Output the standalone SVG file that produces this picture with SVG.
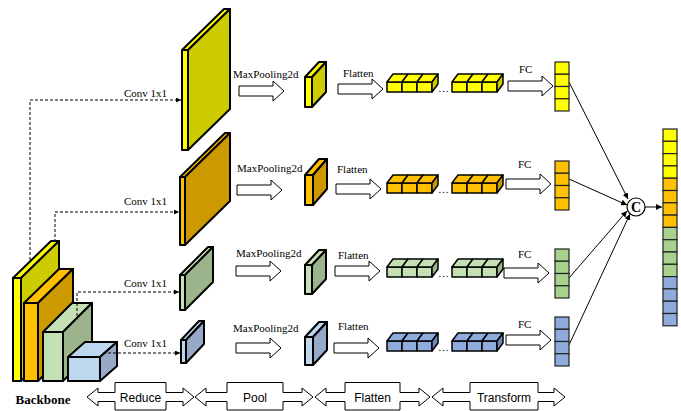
<svg xmlns="http://www.w3.org/2000/svg" xmlns:xlink="http://www.w3.org/1999/xlink" width="681" height="411" viewBox="0 0 681 411">
<style>
.sl{stroke:#000;stroke-width:2;stroke-linejoin:round}
.fb{stroke:#000;stroke-width:1.5;stroke-linejoin:round}
.cell{stroke:#222;stroke-width:1.2}
.ba{fill:#fff;stroke:#000;stroke-width:1}
.dash{fill:none;stroke:#000;stroke-width:1;stroke-dasharray:3,2}
.ln{fill:none;stroke:#000;stroke-width:1}
.lab{font-family:"Liberation Serif","Times New Roman",serif;font-size:11px;fill:#000}
.san{font-family:"Liberation Sans",Arial,sans-serif;font-size:12px;fill:#000;text-anchor:middle}
.y1{fill:#ffff00}.y2{fill:#cccc00}
.o1{fill:#ffc000}.o2{fill:#cc9900}
.g1{fill:#c5e0b4}.g2{fill:#9cb48c}.g3{fill:#a9d18e}
.b1{fill:#bdd7ee}.b2{fill:#97a9c6}.b3{fill:#8faadc}
</style>
<defs>
<marker id="ah" viewBox="0 0 6 6" refX="6" refY="3" markerWidth="5" markerHeight="5" orient="auto" markerUnits="userSpaceOnUse">
<path d="M0,0 L6,3 L0,6 Z" fill="#000"/>
</marker>
<marker id="ah2" viewBox="0 0 8 8" refX="8" refY="4" markerWidth="6" markerHeight="6" orient="auto" markerUnits="userSpaceOnUse">
<path d="M0,0 L8,4 L0,8 Z" fill="#000"/>
</marker>
<g id="fbox">
<rect x="0" y="0" width="15" height="10" class="fb"/>
<rect x="15" y="0" width="15" height="10" class="fb"/>
<rect x="30" y="0" width="15" height="10" class="fb"/>
<polygon points="0,0 15,0 21,-8 6,-8" class="fb"/>
<polygon points="15,0 30,0 36,-8 21,-8" class="fb"/>
<polygon points="30,0 45,0 51,-8 36,-8" class="fb"/>
<polygon points="45,0 51,-8 51,2 45,10" class="fb" fill="currentColor"/>
</g>
<path id="barr" d="M0,-5 H34 V-10 L45,0 L34,10 V5 H0 Z" class="ba"/>
</defs>

<!-- connectors -->
<g id="connectors">
<path class="dash" d="M30,270 V100 H181" marker-end="url(#ah)"/>
<path class="dash" d="M55,242 V212 H179" marker-end="url(#ah)"/>
<path class="dash" d="M77,316 V292 H179" marker-end="url(#ah)"/>
<path class="dash" d="M103,353 H180" marker-end="url(#ah)"/>
<text class="lab" x="124" y="97">Conv 1x1</text>
<text class="lab" x="124" y="205">Conv 1x1</text>
<text class="lab" x="124" y="287">Conv 1x1</text>
<text class="lab" x="124" y="347">Conv 1x1</text>

<use xlink:href="#barr" transform="translate(239,91)"/>
<use xlink:href="#barr" transform="translate(237,190)"/>
<use xlink:href="#barr" transform="translate(236,271)"/>
<use xlink:href="#barr" transform="translate(236,348)"/>
<text class="lab" x="233" y="78">MaxPooling2d</text>
<text class="lab" x="237" y="172">MaxPooling2d</text>
<text class="lab" x="236" y="257">MaxPooling2d</text>
<text class="lab" x="233" y="332">MaxPooling2d</text>

<use xlink:href="#barr" transform="translate(338,89)"/>
<use xlink:href="#barr" transform="translate(336,189)"/>
<use xlink:href="#barr" transform="translate(335,271)"/>
<use xlink:href="#barr" transform="translate(334,348)"/>
<text class="lab" x="343" y="77">Flatten</text>
<text class="lab" x="337" y="173">Flatten</text>
<text class="lab" x="338" y="259">Flatten</text>
<text class="lab" x="338" y="330">Flatten</text>

<use xlink:href="#barr" transform="translate(508,86)"/>
<use xlink:href="#barr" transform="translate(506,184)"/>
<use xlink:href="#barr" transform="translate(504,273)"/>
<use xlink:href="#barr" transform="translate(506,340)"/>
<text class="lab" x="519" y="73">FC</text>
<text class="lab" x="518" y="168">FC</text>
<text class="lab" x="518" y="258">FC</text>
<text class="lab" x="518" y="328">FC</text>

<line class="ln" x1="569" y1="82" x2="628" y2="199" marker-end="url(#ah2)"/>
<line class="ln" x1="569" y1="179" x2="627" y2="205" marker-end="url(#ah2)"/>
<line class="ln" x1="569" y1="278" x2="627" y2="211" marker-end="url(#ah2)"/>
<line class="ln" x1="569" y1="345" x2="630" y2="214" marker-end="url(#ah2)"/>
<line class="ln" x1="645" y1="207" x2="662" y2="207" marker-end="url(#ah2)"/>
</g>

<!-- backbone -->
<g id="backbone">
<g id="bb-yellow">
<polygon class="sl y1" points="13,278 21,278 59,241 51,241"/>
<polygon class="sl y2" points="21,278 59,241 59,344 21,381"/>
<rect class="sl y1" x="13" y="278" width="8" height="103"/>
</g>
<g id="bb-orange">
<polygon class="sl o1" points="24,303 38,303 73,269 59,269"/>
<polygon class="sl o2" points="38,303 73,269 73,347 38,381"/>
<rect class="sl o1" x="24" y="303" width="14" height="78"/>
</g>
<g id="bb-green">
<polygon class="sl g1" points="43,332 63,332 92,303 72,303"/>
<polygon class="sl g2" points="63,332 92,303 92,352 63,381"/>
<rect class="sl g1" x="43" y="332" width="20" height="49"/>
</g>
<g id="bb-blue">
<polygon class="sl b1" points="68,357 100,357 117,342 85,342"/>
<polygon class="sl b2" points="100,357 117,342 117,366 100,381"/>
<rect class="sl b1" x="68" y="357" width="32" height="24"/>
</g>
<text x="43" y="404" text-anchor="middle" style="font-family:'Liberation Serif','Times New Roman',serif;font-size:13px;font-weight:bold">Backbone</text>
</g>
<path class="dash" d="M77,303 V316"/>
<path class="dash" d="M103,353 H117"/>

<!-- conv feature maps -->
<g id="conv-yellow">
<polygon class="sl y1" points="182,50 188,50 230,9 224,9"/>
<polygon class="sl y2" points="188,50 230,9 230,109 188,150"/>
<rect class="sl y1" x="182" y="50" width="6" height="100"/>
</g>
<g id="conv-orange">
<polygon class="sl o1" points="180,177 185,177 230,133 225,133"/>
<polygon class="sl o2" points="185,177 230,133 230,201 185,245"/>
<rect class="sl o1" x="180" y="177" width="5" height="68"/>
</g>
<g id="conv-green">
<polygon class="sl g1" points="180,275 185,275 213,247 208,247"/>
<polygon class="sl g2" points="185,275 213,247 213,282 185,310"/>
<rect class="sl g1" x="180" y="275" width="5" height="35"/>
</g>
<g id="conv-blue">
<polygon class="sl b1" points="181,340 186,340 204,321 199,321"/>
<polygon class="sl b2" points="186,340 204,321 204,344 186,363"/>
<rect class="sl b1" x="181" y="340" width="5" height="23"/>
</g>

<!-- pooled maps -->
<g id="pool-yellow">
<polygon class="sl y1" points="305,77 312,77 326,62 319,62"/>
<polygon class="sl y2" points="312,77 326,62 326,92 312,107"/>
<rect class="sl y1" x="305" y="77" width="7" height="30"/>
</g>
<g id="pool-orange">
<polygon class="sl o1" points="305,175 313,175 327,159 319,159"/>
<polygon class="sl o2" points="313,175 327,159 327,189 313,205"/>
<rect class="sl o1" x="305" y="175" width="8" height="30"/>
</g>
<g id="pool-green">
<polygon class="sl g1" points="305,265 312,265 326,250 319,250"/>
<polygon class="sl g2" points="312,265 326,250 326,279 312,294"/>
<rect class="sl g1" x="305" y="265" width="7" height="29"/>
</g>
<g id="pool-blue">
<polygon class="sl b1" points="305,337 313,337 327,322 319,322"/>
<polygon class="sl b2" points="313,337 327,322 327,350 313,365"/>
<rect class="sl b1" x="305" y="337" width="8" height="28"/>
</g>

<!-- flattened -->
<g id="flat-yellow">
<use xlink:href="#fbox" x="387" y="82" fill="#ffff00" color="#cccc00"/>
<use xlink:href="#fbox" x="452" y="82" fill="#ffff00" color="#cccc00"/>
<text class="lab" x="438" y="92">…</text>
</g>
<g id="flat-orange">
<use xlink:href="#fbox" x="387" y="183" fill="#ffc000" color="#cc9900"/>
<use xlink:href="#fbox" x="452" y="183" fill="#ffc000" color="#cc9900"/>
<text class="lab" x="438" y="193">…</text>
</g>
<g id="flat-green">
<use xlink:href="#fbox" x="387" y="267" fill="#c5e0b4" color="#9cb48c"/>
<use xlink:href="#fbox" x="452" y="267" fill="#c5e0b4" color="#9cb48c"/>
<text class="lab" x="438" y="277">…</text>
</g>
<g id="flat-blue">
<use xlink:href="#fbox" x="387" y="341" fill="#8faadc" color="#6f88b8"/>
<use xlink:href="#fbox" x="452" y="341" fill="#8faadc" color="#6f88b8"/>
<text class="lab" x="438" y="351">…</text>
</g>

<!-- FC vectors -->
<g id="fc-yellow" class="y1">
<rect class="cell" x="555" y="62" width="14" height="12.25"/>
<rect class="cell" x="555" y="74.25" width="14" height="12.25"/>
<rect class="cell" x="555" y="86.5" width="14" height="12.25"/>
<rect class="cell" x="555" y="98.75" width="14" height="12.25"/>
</g>
<g id="fc-orange" class="o1">
<rect class="cell" x="555" y="161" width="14" height="12.25"/>
<rect class="cell" x="555" y="173.25" width="14" height="12.25"/>
<rect class="cell" x="555" y="185.5" width="14" height="12.25"/>
<rect class="cell" x="555" y="197.75" width="14" height="12.25"/>
</g>
<g id="fc-green" class="g3">
<rect class="cell" x="555" y="249" width="14" height="12.25"/>
<rect class="cell" x="555" y="261.25" width="14" height="12.25"/>
<rect class="cell" x="555" y="273.5" width="14" height="12.25"/>
<rect class="cell" x="555" y="285.75" width="14" height="12.25"/>
</g>
<g id="fc-blue" class="b3">
<rect class="cell" x="555" y="317" width="14" height="12.25"/>
<rect class="cell" x="555" y="329.25" width="14" height="12.25"/>
<rect class="cell" x="555" y="341.5" width="14" height="12.25"/>
<rect class="cell" x="555" y="353.75" width="14" height="12.25"/>
</g>

<!-- concat -->
<g id="concat">
<circle cx="636" cy="207" r="9" fill="#fff" stroke="#000" stroke-width="1.2"/>
<text x="636" y="212" text-anchor="middle" style="font-family:'Liberation Serif','Times New Roman',serif;font-size:14px;font-weight:bold">C</text>
</g>
<g id="concat-vector">
<rect class="cell y1" x="663" y="129" width="14" height="12.3"/>
<rect class="cell y1" x="663" y="141.3" width="14" height="12.3"/>
<rect class="cell y1" x="663" y="153.6" width="14" height="12.3"/>
<rect class="cell y1" x="663" y="165.9" width="14" height="12.3"/>
<rect class="cell o1" x="663" y="178.2" width="14" height="12.3"/>
<rect class="cell o1" x="663" y="190.5" width="14" height="12.3"/>
<rect class="cell o1" x="663" y="202.8" width="14" height="12.3"/>
<rect class="cell o1" x="663" y="215.1" width="14" height="12.3"/>
<rect class="cell g3" x="663" y="227.4" width="14" height="12.3"/>
<rect class="cell g3" x="663" y="239.7" width="14" height="12.3"/>
<rect class="cell g3" x="663" y="252" width="14" height="12.3"/>
<rect class="cell g3" x="663" y="264.3" width="14" height="12.3"/>
<rect class="cell b3" x="663" y="276.6" width="14" height="12.3"/>
<rect class="cell b3" x="663" y="288.9" width="14" height="12.3"/>
<rect class="cell b3" x="663" y="301.2" width="14" height="12.3"/>
<rect class="cell b3" x="663" y="313.5" width="14" height="12.3"/>
</g>

<!-- stage callouts -->
<g id="stage-reduce">
<path class="ba" d="M115,382.5 H166 V392.5 H183 V388 L194,397 L183,406 V401.5 H166 V410 H115 V401.5 H98 V406 L87,397 L98,388 V392.5 H115 Z"/>
<text class="san" x="140.5" y="401.5">Reduce</text>
</g>
<g id="stage-pool">
<path class="ba" d="M227,382.5 H283 V392.5 H302 V388 L313,397 L302,406 V401.5 H283 V410 H227 V401.5 H206 V406 L195,397 L206,388 V392.5 H227 Z"/>
<text class="san" x="255" y="401.5">Pool</text>
</g>
<g id="stage-flatten">
<path class="ba" d="M345,382.5 H400 V392.5 H419 V388 L430,397 L419,406 V401.5 H400 V410 H345 V401.5 H326 V406 L315,397 L326,388 V392.5 H345 Z"/>
<text class="san" x="372.5" y="401.5">Flatten</text>
</g>
<g id="stage-transform">
<path class="ba" d="M470,382.5 H538 V392.5 H554 V388 L565,397 L554,406 V401.5 H538 V410 H470 V401.5 H443 V406 L432,397 L443,388 V392.5 H470 Z"/>
<text class="san" x="504" y="401.5">Transform</text>
</g>
</svg>
